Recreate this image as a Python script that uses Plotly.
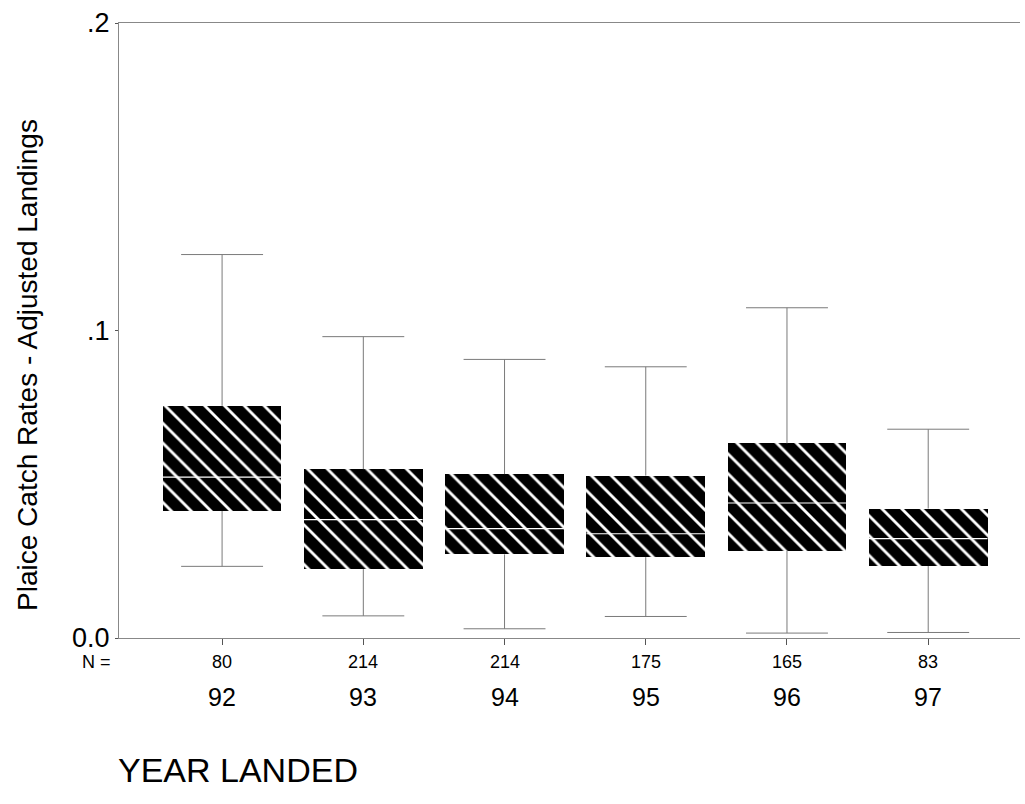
import plotly.graph_objects as go

# Year landed categories and number of trips in each
years = ["92", "93", "94", "95", "96", "97"]
n_counts = [80, 214, 214, 175, 165, 83]

# Box-plot statistics for plaice catch rates (adjusted landings)
whisker_low = [0.0233, 0.0072, 0.0030, 0.0070, 0.0016, 0.0018]
q1 = [0.0413, 0.0224, 0.0272, 0.0263, 0.0283, 0.0234]
median = [0.0523, 0.0385, 0.0356, 0.0339, 0.0439, 0.0323]
q3 = [0.0755, 0.0549, 0.0533, 0.0528, 0.0633, 0.0421]
whisker_high = [0.1247, 0.0980, 0.0906, 0.0882, 0.1074, 0.0679]

# Y-axis ticks
y_ticks = [0.0, 0.1, 0.2]
y_tick_text = ["0.0", ".1", ".2"]

FONT = "Liberation Sans, Arial, Helvetica, sans-serif"
BOX_W = 0.84
CAP_HALF = 0.29
WHISKER_COLOR = "#7a7a7a"

pos = list(range(len(years)))

fig = go.Figure()

# Whiskers and caps
wx, wy = [], []
for p, lo, a, b, hi in zip(pos, whisker_low, q1, q3, whisker_high):
    wx += [p, p, None, p, p, None,
           p - CAP_HALF, p + CAP_HALF, None, p - CAP_HALF, p + CAP_HALF, None]
    wy += [lo, a, None, b, hi, None, lo, lo, None, hi, hi, None]
fig.add_trace(go.Scatter(
    x=wx, y=wy, mode="lines",
    line=dict(color=WHISKER_COLOR, width=1),
    hoverinfo="skip", showlegend=False,
))

# Hatched interquartile boxes
fig.add_trace(go.Bar(
    x=pos,
    y=[b - a for a, b in zip(q1, q3)],
    base=q1,
    width=BOX_W,
    marker=dict(
        color="black",
        line=dict(width=0),
        pattern=dict(shape="\\", bgcolor="black", fgcolor="white",
                     fgopacity=1, size=14, solidity=0.2),
    ),
    showlegend=False,
))

# Median lines
mx, my = [], []
for p, m in zip(pos, median):
    mx += [p - BOX_W / 2, p + BOX_W / 2, None]
    my += [m, m, None]
fig.add_trace(go.Scatter(
    x=mx, y=my, mode="lines",
    line=dict(color="white", width=1.2),
    hoverinfo="skip", showlegend=False,
))

annotations = []
# Sample sizes and year labels under each box
for p, n, yr in zip(pos, n_counts, years):
    annotations.append(dict(x=p, y=-0.039, xref="x", yref="paper", text=str(n),
                            showarrow=False, font=dict(size=18, family=FONT, color="black"),
                            xanchor="center", yanchor="middle"))
    annotations.append(dict(x=p, y=-0.096, xref="x", yref="paper", text=yr,
                            showarrow=False, font=dict(size=25, family=FONT, color="black"),
                            xanchor="center", yanchor="middle"))
annotations.append(dict(x=-0.007, y=-0.039, xref="paper", yref="paper", text="N =",
                        showarrow=False, font=dict(size=18, family=FONT, color="black"),
                        xanchor="right", yanchor="middle"))
annotations.append(dict(x=0.132, y=-0.215, xref="paper", yref="paper", text="YEAR LANDED",
                        showarrow=False, font=dict(size=34, family=FONT, color="black"),
                        xanchor="center", yanchor="middle"))
annotations.append(dict(x=-0.101, y=0.444, xref="paper", yref="paper",
                        text="Plaice Catch Rates - Adjusted Landings", textangle=-90,
                        showarrow=False, font=dict(size=28, family=FONT, color="black"),
                        xanchor="center", yanchor="middle"))

fig.update_layout(
    width=1025, height=804,
    margin=dict(l=119, r=5, t=23, b=166),
    paper_bgcolor="white", plot_bgcolor="white",
    font=dict(family=FONT, color="black"),
    bargap=0,
    annotations=annotations,
    xaxis=dict(
        range=[-0.73, 5.65],
        tickvals=pos, ticktext=[""] * len(pos),
        ticks="outside", ticklen=6, tickcolor="#555", tickwidth=1,
        showline=True, linecolor="#888", linewidth=1, mirror=True,
        showgrid=False, zeroline=False,
    ),
    yaxis=dict(
        range=[0, 0.2],
        tickvals=y_ticks, ticktext=y_tick_text,
        ticks="outside", ticklen=3, tickcolor="#555",
        tickfont=dict(size=27, family=FONT, color="black"),
        showline=True, linecolor="#888", linewidth=1,
        showgrid=False, zeroline=False,
    ),
)

fig.write_html("out.html")
